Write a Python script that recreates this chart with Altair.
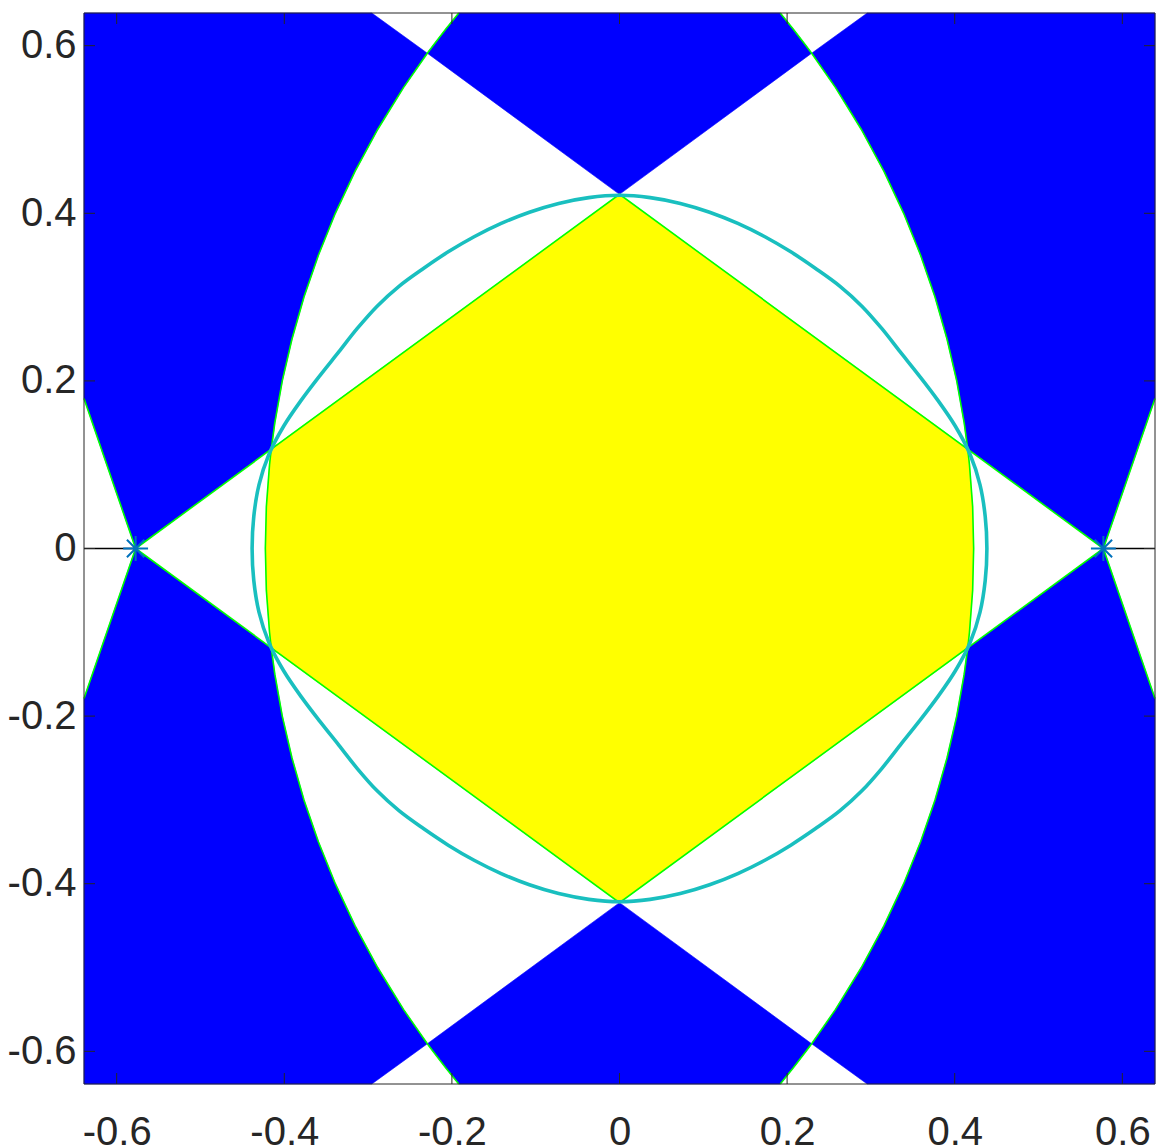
import altair as alt
import pandas as pd

# ---------------- values ----------------
LIM = 0.639                                   # axis limits (both axes)
TICKS = [-0.6, -0.4, -0.2, 0.0, 0.2, 0.4, 0.6]

MARK_X = [-0.5774, 0.5774]                    # asterisk markers on the real axis
MARK_Y = [0.0, 0.0]
APEX_Y = 0.4226                               # top / bottom corners of the diamond
EDGE_X = 0.2956                               # diamond edges leave the box at top/bottom here
STEEP_Y = 0.179                               # steep lines leave the box at the sides here

# the two large green arcs (left arc and right arc), sampled along y
ARC_Y = [0.639, 0.62, 0.6, 0.591, 0.55, 0.5, 0.45, 0.4, 0.35, 0.3, 0.25, 0.2, 0.15,
         0.119, 0.1, 0.05, 0.0, -0.05, -0.1, -0.119, -0.15, -0.2, -0.25, -0.3, -0.35,
         -0.4, -0.45, -0.5, -0.55, -0.591, -0.6, -0.62, -0.639]
LEFT_ARC_X = [-0.1918, -0.2072, -0.2226, -0.2293, -0.2578, -0.2886, -0.3156, -0.3391,
              -0.3593, -0.3765, -0.3908, -0.4024, -0.4113, -0.4155, -0.4176, -0.4214,
              -0.4226, -0.4214, -0.4176, -0.4155, -0.4113, -0.4024, -0.3908, -0.3765,
              -0.3593, -0.3391, -0.3156, -0.2886, -0.2578, -0.2293, -0.2226, -0.2072,
              -0.1918]
RIGHT_ARC_X = [0.1918, 0.2072, 0.2226, 0.2293, 0.2578, 0.2886, 0.3156, 0.3391,
               0.3593, 0.3765, 0.3908, 0.4024, 0.4113, 0.4155, 0.4176, 0.4214,
               0.4226, 0.4214, 0.4176, 0.4155, 0.4113, 0.4024, 0.3908, 0.3765,
               0.3593, 0.3391, 0.3156, 0.2886, 0.2578, 0.2293, 0.2226, 0.2072,
               0.1918]

# the cyan closed curve (read every ~5 degrees around the origin)
CYAN_X = [0.4384, 0.4364, 0.4302, 0.4184, 0.4008, 0.3797, 0.3575, 0.3350, 0.3129, 0.2892,
          0.2628, 0.2340, 0.2044, 0.1735, 0.1412, 0.1075, 0.0726, 0.0366, 0.0,
          -0.0366, -0.0726, -0.1075, -0.1412, -0.1735, -0.2044, -0.2340, -0.2628, -0.2892,
          -0.3129, -0.3350, -0.3575, -0.3797, -0.4008, -0.4184, -0.4302, -0.4364, -0.4384,
          -0.4364, -0.4302, -0.4184, -0.4008, -0.3797, -0.3575, -0.3350, -0.3129, -0.2892,
          -0.2628, -0.2340, -0.2044, -0.1735, -0.1412, -0.1075, -0.0726, -0.0366, 0.0,
          0.0366, 0.0726, 0.1075, 0.1412, 0.1735, 0.2044, 0.2340, 0.2628, 0.2892,
          0.3129, 0.3350, 0.3575, 0.3797, 0.4008, 0.4184, 0.4302, 0.4364]
CYAN_Y = [0.0, 0.0382, 0.0759, 0.1121, 0.1459, 0.1771, 0.2064, 0.2346, 0.2626, 0.2892,
          0.3132, 0.3342, 0.3540, 0.3720, 0.3879, 0.4013, 0.4118, 0.4187, 0.4215,
          0.4187, 0.4118, 0.4013, 0.3879, 0.3720, 0.3540, 0.3342, 0.3132, 0.2892,
          0.2626, 0.2346, 0.2064, 0.1771, 0.1459, 0.1121, 0.0759, 0.0382, 0.0,
          -0.0382, -0.0759, -0.1121, -0.1459, -0.1771, -0.2064, -0.2346, -0.2626, -0.2892,
          -0.3132, -0.3342, -0.3540, -0.3720, -0.3879, -0.4013, -0.4118, -0.4187, -0.4215,
          -0.4187, -0.4118, -0.4013, -0.3879, -0.3720, -0.3540, -0.3342, -0.3132, -0.2892,
          -0.2626, -0.2346, -0.2064, -0.1771, -0.1459, -0.1121, -0.0759, -0.0382]

# ---------------- tables built from the values ----------------
def L(i):
    return (LEFT_ARC_X[i], ARC_Y[i])


def R(i):
    return (RIGHT_ARC_X[i], ARC_Y[i])


blue_polys = [
    [(0.0, APEX_Y)] + [R(i) for i in (3, 2, 1, 0)] + [L(i) for i in (0, 1, 2, 3)],
    [(0.0, -APEX_Y)] + [R(i) for i in (29, 30, 31, 32)] + [L(i) for i in (32, 31, 30, 29)],
    [(-LIM, LIM), (-EDGE_X, LIM)] + [L(i) for i in range(3, 14)]
    + [(MARK_X[0], MARK_Y[0]), (-LIM, STEEP_Y)],
    [(-LIM, -LIM), (-EDGE_X, -LIM)] + [L(i) for i in range(29, 18, -1)]
    + [(MARK_X[0], MARK_Y[0]), (-LIM, -STEEP_Y)],
    [(LIM, LIM), (EDGE_X, LIM)] + [R(i) for i in range(3, 14)]
    + [(MARK_X[1], MARK_Y[1]), (LIM, STEEP_Y)],
    [(LIM, -LIM), (EDGE_X, -LIM)] + [R(i) for i in range(29, 18, -1)]
    + [(MARK_X[1], MARK_Y[1]), (LIM, -STEEP_Y)],
]
yellow_polys = [
    [(0.0, APEX_Y)] + [R(i) for i in range(13, 20)] + [(0.0, -APEX_Y)]
    + [L(i) for i in range(19, 12, -1)]
]
green_paths = [
    [(MARK_X[0], 0.0), (0.0, APEX_Y), (MARK_X[1], 0.0), (0.0, -APEX_Y), (MARK_X[0], 0.0)],
    [L(i) for i in range(len(ARC_Y))],
    [R(i) for i in range(len(ARC_Y))],
    [(-LIM, STEEP_Y), (MARK_X[0], MARK_Y[0]), (-LIM, -STEEP_Y)],
    [(LIM, STEEP_Y), (MARK_X[1], MARK_Y[1]), (LIM, -STEEP_Y)],
]
black_paths = [
    [(-LIM, 0.0), (MARK_X[0], 0.0)],
    [(MARK_X[1], 0.0), (LIM, 0.0)],
]


def to_df(polys):
    rows = []
    for pid, pts in enumerate(polys):
        for k, (x, y) in enumerate(pts):
            rows.append({"pid": pid, "k": k, "x": x, "y": y})
    return pd.DataFrame(rows)


blue_df = to_df(blue_polys)
yellow_df = to_df(yellow_polys)
green_df = to_df(green_paths)
black_df = to_df(black_paths)
cyan_df = pd.DataFrame({"k": list(range(len(CYAN_X))), "x": CYAN_X, "y": CYAN_Y})
mark_df = pd.DataFrame({"x": MARK_X, "y": MARK_Y})
tick_df = pd.DataFrame({"t": TICKS})

# ---------------- chart ----------------
W = 1071
H = 1071
FONT = "Liberation Sans"
AX_COLOR = "#262626"
label_expr = ("datum.value == 0 ? '0' : (datum.value < 0 ? '-' : '') + "
              "format(abs(datum.value), '.1f')")

scale = alt.Scale(domain=[-LIM, LIM], nice=False, zero=False)
x_axis = alt.Axis(values=TICKS, labelExpr=label_expr, ticks=False, tickSize=0,
                  domain=False, grid=False, labelFontSize=40, labelFont=FONT,
                  labelColor=AX_COLOR, labelPadding=28, labelFlush=False,
                  labelOverlap=False, orient="bottom")
y_axis = alt.Axis(values=TICKS, labelExpr=label_expr, ticks=False, tickSize=0,
                  domain=False, grid=False, labelFontSize=40, labelFont=FONT,
                  labelColor=AX_COLOR, labelPadding=8, labelFlush=False,
                  labelOverlap=False, orient="left")


def X(f):
    return alt.X(f, type="quantitative", scale=scale, axis=x_axis, title=None)


def Y(f):
    return alt.Y(f, type="quantitative", scale=scale, axis=y_axis, title=None)


blue = alt.Chart(blue_df).mark_line(
    interpolate="linear-closed", fill="#0000FF", stroke="#0000FF", strokeWidth=0.6
).encode(x=X("x"), y=Y("y"), order="k:Q", detail="pid:N")

yellow = alt.Chart(yellow_df).mark_line(
    interpolate="linear-closed", fill="#FFFF00", stroke="#FFFF00", strokeWidth=0.6
).encode(x=X("x"), y=Y("y"), order="k:Q", detail="pid:N")

black = alt.Chart(black_df).mark_line(color="#000000", strokeWidth=1.6).encode(
    x=X("x"), y=Y("y"), order="k:Q", detail="pid:N")

green = alt.Chart(green_df).mark_line(color="#00FF00", strokeWidth=1.6).encode(
    x=X("x"), y=Y("y"), order="k:Q", detail="pid:N")

cyan = alt.Chart(cyan_df).mark_line(
    color="#19BFBF", strokeWidth=3.6, interpolate="cardinal-closed"
).encode(x=X("x"), y=Y("y"), order="k:Q")

asterisk = "M-1,0L1,0M0,-1L0,1M-0.7,-0.7L0.7,0.7M-0.7,0.7L0.7,-0.7"
markers = alt.Chart(mark_df).mark_point(
    shape=asterisk, size=620, filled=False, stroke="#0072BD", strokeWidth=2, opacity=1
).encode(x=X("x"), y=Y("y"))

TL = 11
tick_b = alt.Chart(tick_df).mark_rule(color=AX_COLOR, strokeWidth=1).encode(
    x=X("t"), y=alt.value(H), y2=alt.value(H - TL))
tick_t = alt.Chart(tick_df).mark_rule(color=AX_COLOR, strokeWidth=1).encode(
    x=X("t"), y=alt.value(0), y2=alt.value(TL))
tick_l = alt.Chart(tick_df).mark_rule(color=AX_COLOR, strokeWidth=1).encode(
    y=Y("t"), x=alt.value(0), x2=alt.value(TL))
tick_r = alt.Chart(tick_df).mark_rule(color=AX_COLOR, strokeWidth=1).encode(
    y=Y("t"), x=alt.value(W), x2=alt.value(W - TL))

frame_df = pd.DataFrame({"side": ["b"]})
frame_top = alt.Chart(frame_df).mark_rule(color=AX_COLOR, strokeWidth=1).encode(
    x=alt.value(0), x2=alt.value(W), y=alt.value(0))
frame_bot = alt.Chart(frame_df).mark_rule(color=AX_COLOR, strokeWidth=1).encode(
    x=alt.value(0), x2=alt.value(W), y=alt.value(H))
frame_left = alt.Chart(frame_df).mark_rule(color=AX_COLOR, strokeWidth=1).encode(
    x=alt.value(0), y=alt.value(0), y2=alt.value(H))
frame_right = alt.Chart(frame_df).mark_rule(color=AX_COLOR, strokeWidth=1).encode(
    x=alt.value(W), y=alt.value(0), y2=alt.value(H))

chart = alt.layer(
    blue, yellow, black, green, cyan, markers,
    tick_b, tick_t, tick_l, tick_r,
    frame_top, frame_bot, frame_left, frame_right,
).properties(
    width=W, height=H,
    autosize=alt.AutoSizeParams(type="none"),
    padding={"left": 76, "top": 5, "right": 4, "bottom": 70},
    background="#FFFFFF",
).configure_view(strokeWidth=0)

chart.save("out.html", embed_options={"renderer": "svg", "actions": False})
